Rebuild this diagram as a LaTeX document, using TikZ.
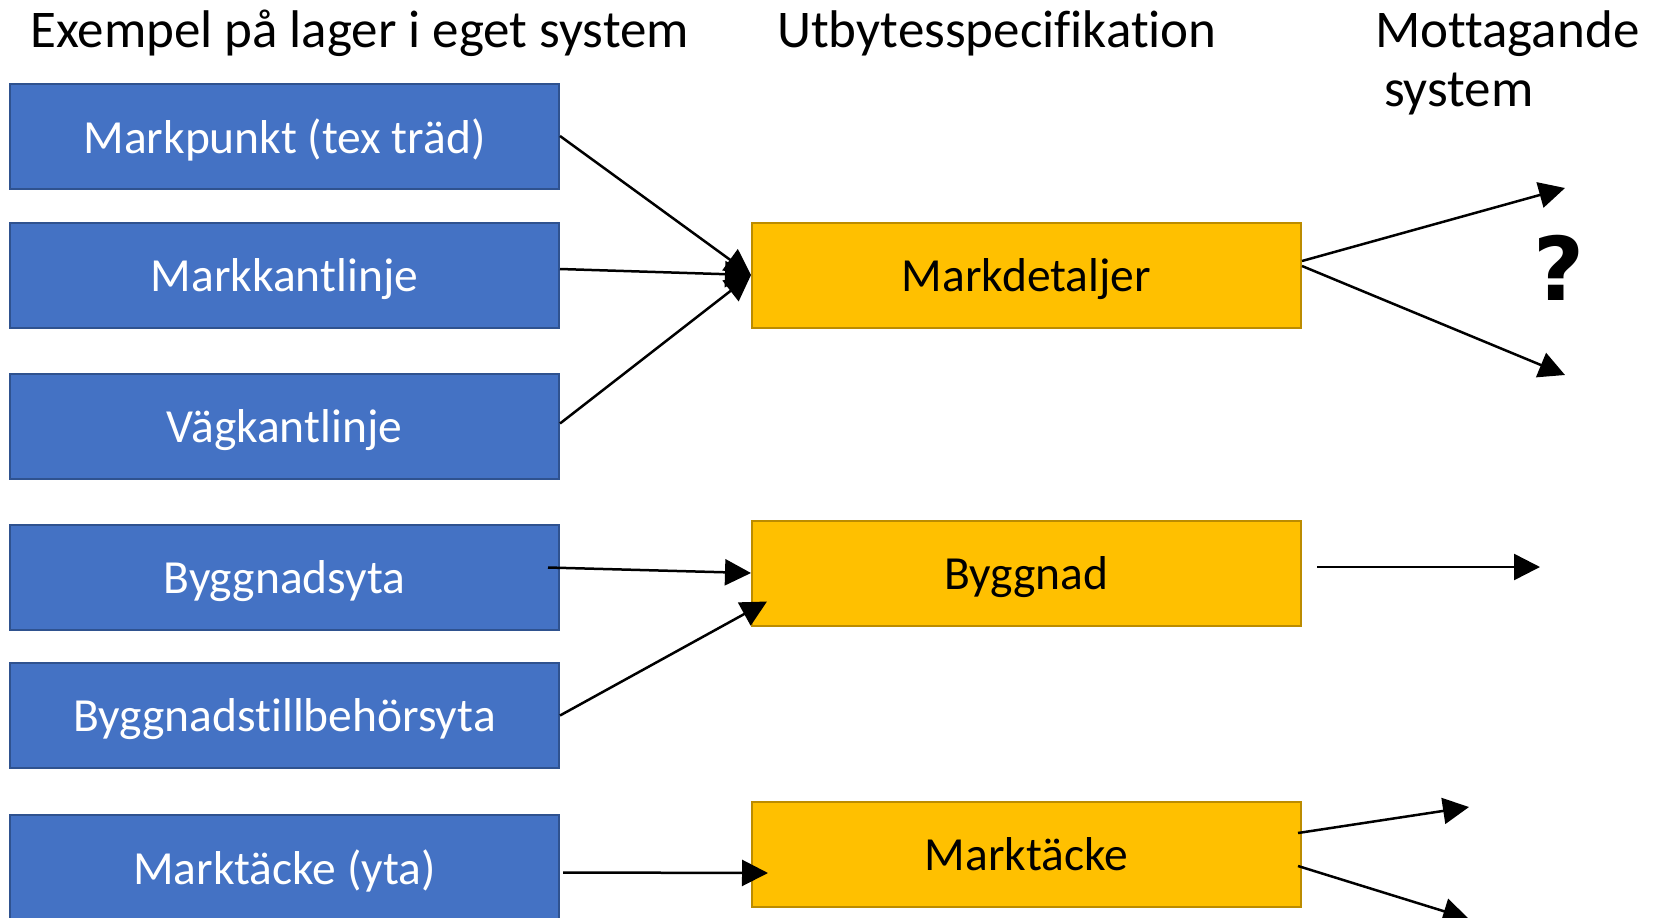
\documentclass[tikz,border=0pt]{standalone}
\usepackage{fontspec}
\setmainfont[Ligatures=NoCommon]{Carlito}
\newfontfamily\fragafont{DejaVu Sans}
\usetikzlibrary{arrows.meta}

\definecolor{lagerfill}{HTML}{4472C4}
\definecolor{lagerdraw}{HTML}{2F528F}
\definecolor{specfill}{HTML}{FFC000}
\definecolor{specdraw}{HTML}{BC8C00}

\begin{document}
\begin{tikzpicture}[x=1pt,y=-1pt,
  lager/.style={draw=lagerdraw,fill=lagerfill,text=white,line width=2pt,
    minimum width=549pt,minimum height=105pt,inner sep=0pt,text depth=0pt,
    font=\fontsize{47.5}{57}\selectfont},
  spec/.style={lager,draw=specdraw,fill=specfill,text=black},
  rubrik/.style={inner sep=0pt,anchor=base west,font=\fontsize{53}{56}\selectfont},
  pil/.style={line width=2.5pt,-{Triangle[length=26pt,width=26pt]}}]

\useasboundingbox (0,0) rectangle (1657,918);

\node[rubrik] (r1) at (30,47) {Exempel på lager i eget system};
\node[rubrik] (r2) at (777,47) {Utbytesspecifikation};
\node[rubrik] (r3) at (1375,47) {Mottagande};
\node[rubrik] (r4) at (1384,106) {system};

\node[lager] (l1) at (284.5,136) {Markpunkt (tex träd)};
\node[lager] (l2) at (284.5,275) {Markkantlinje};
\node[lager] (l3) at (284.5,426.5) {Vägkantlinje};
\node[lager] (l4) at (284.5,577.5) {Byggnadsyta};
\node[lager] (l5) at (284.5,715.5) {Byggnadstillbehörsyta};
\node[lager] (l6) at (284.5,867.5) {Marktäcke (yta)};

\node[spec] (u1) at (1026.5,275) {Markdetaljer};
\node[spec] (u2) at (1026.5,573) {Byggnad};
\node[spec] (u3) at (1026.5,854) {Marktäcke};

\node[inner sep=0pt,font=\fragafont\bfseries\fontsize{88}{88}\selectfont] (q) at (1559,268) {?};

\coordinate (m1) at (1565,188);
\coordinate (m2) at (1565,375);
\coordinate (m3) at (1540,567);
\coordinate (m4) at (1469,807);
\coordinate (m5) at (1469,919);

  \draw[pil] (l1.east) -- (u1.west);
  \draw[pil] ([yshift=6pt]l2.east) -- (u1.west);
  \draw[pil] ([yshift=3pt]l3.east) -- (u1.west);
  \draw[pil] ([xshift=-12pt,yshift=10pt]l4.east) -- (u2.west);
  \draw[pil] (l5.east) -- ([xshift=16pt,yshift=25pt]u2.south west);
  \draw[pil] ([xshift=3pt,yshift=-5pt]l6.east) -- ([xshift=17pt,yshift=-19pt]u3.west);

  \draw[pil] ([yshift=14pt]u1.east) -- (m1);
  \draw[pil] ([yshift=9pt]u1.east) -- (m2);
  \draw[pil] ([xshift=15pt,yshift=6pt]u2.east) -- (m3);
  \draw[pil] ([xshift=-4pt,yshift=21pt]u3.east) -- (m4);
  \draw[pil] ([xshift=-4pt,yshift=-12pt]u3.east) -- (m5);
\end{tikzpicture}
\end{document}
